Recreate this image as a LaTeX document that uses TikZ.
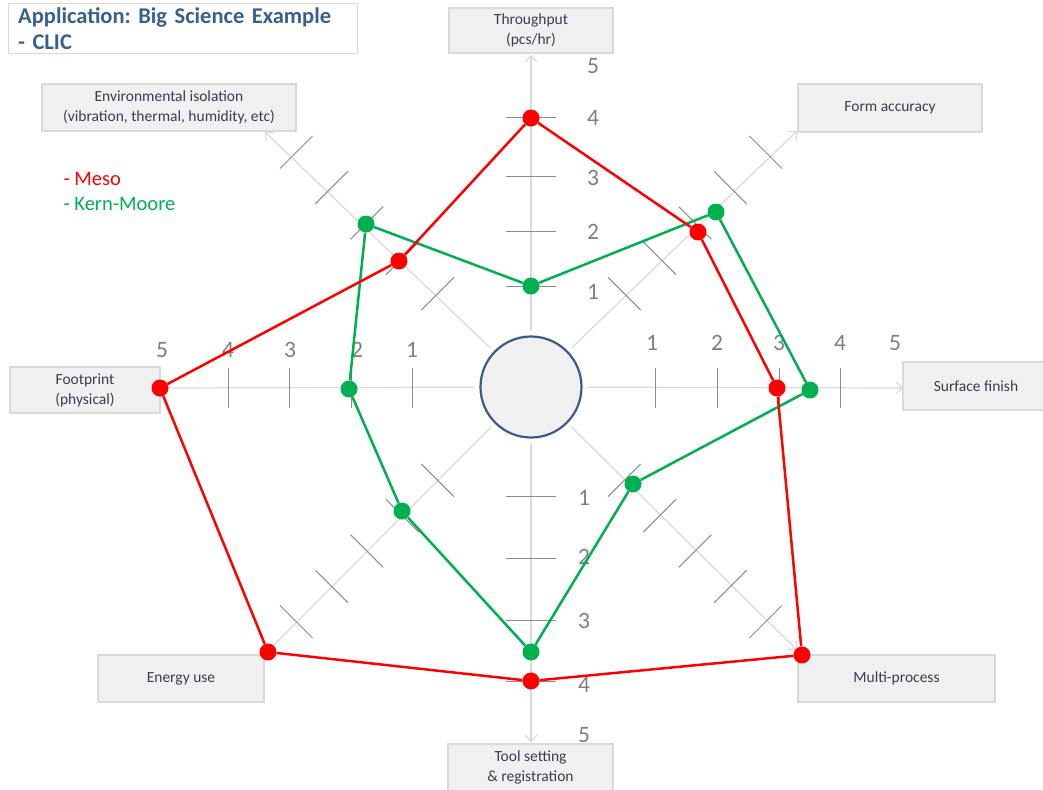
\documentclass[tikz,border=0pt]{standalone}
\usepackage{fontspec}
\setmainfont{Carlito}
\frenchspacing
\usetikzlibrary{positioning, arrows.meta, shapes}
\definecolor{boxgray}{HTML}{F0F0F0}
\definecolor{boxline}{HTML}{D9D9D9}
\definecolor{labelblue}{HTML}{333F50}
\definecolor{titleblue}{HTML}{376092}
\definecolor{mesored}{HTML}{FF0000}
\definecolor{kmgreen}{HTML}{00B050}
\definecolor{hubblue}{HTML}{3A5A8C}
\definecolor{tickgray}{HTML}{8C8C8C}
\definecolor{numgray}{HTML}{7F7F7F}
\tikzstyle{axis} = [draw=boxline, line width=1.2pt, -{Straight Barb[length=6pt,width=12pt]}, shorten <=5pt]

\begin{document}
\begin{tikzpicture}[x=1pt, y=-1pt]
    \tikzstyle{every node}=[font=\fontsize{15.5}{20}\selectfont]
    \tikzstyle{factor} = [rectangle, draw=boxline, line width=2pt, fill=boxgray, text=labelblue, align=center, inner sep=0pt]
    \tikzstyle{num} = [text=numgray, font=\fontsize{23.5}{23.5}\selectfont, inner sep=0pt]
    \tikzstyle{tick} = [draw=tickgray, line width=1pt]
    \tikzstyle{mdot} = [circle, fill=mesored, minimum size=17pt, inner sep=0pt]
    \tikzstyle{kdot} = [circle, fill=kmgreen, minimum size=17pt, inner sep=0pt]
    \tikzstyle{mline} = [draw=mesored, line width=2.5pt]
    \tikzstyle{kline} = [draw=kmgreen, line width=2.5pt]

    \useasboundingbox (0,0) rectangle (1043,789);

    % title and legend
    \node[draw=boxline, line width=0.8pt, text width=329pt, inner xsep=10pt, minimum height=50pt, align=left, text=titleblue,
          font=\fontsize{22.5}{26}\selectfont\bfseries] (title) at (182.5,28) {};
    \node[anchor=north west, text width=329pt, align=left, text=titleblue, inner sep=0pt,
          font=\fontsize{22.5}{26}\selectfont\bfseries] (titletext) at (18,7) {Application: Big Science Example\\- CLIC};
    \node[anchor=west, text=mesored, font=\fontsize{20.5}{22}\selectfont] (leg1) at (60,179) {- Meso};
    \node[anchor=west, text=kmgreen, font=\fontsize{20.5}{22}\selectfont] (leg2) at (60,204) {- Kern-Moore};

    % factor boxes
    \node[factor, minimum width=164pt, minimum height=45pt] (thr) at (531,30.5) {Throughput\\(pcs/hr)};
    \node[factor, minimum width=254pt, minimum height=47pt] (env) at (169,107.5) {Environmental isolation\\(vibration, thermal, humidity, etc)};
    \node[factor, minimum width=184pt, minimum height=48pt] (form) at (890,108) {Form accuracy};
    \node[factor, minimum width=150pt, minimum height=46pt] (foot) at (85,390) {Footprint\\(physical)};
    \node[factor, minimum width=146pt, minimum height=48pt] (surf) at (976,386) {Surface finish};
    \node[factor, minimum width=166pt, minimum height=47pt] (energy) at (181,678.5) {Energy use};
    \node[factor, minimum width=197pt, minimum height=47pt] (multi) at (896.5,678.5) {Multi-process};
    \node[factor, minimum width=165pt, minimum height=47pt] (tool) at (530.5,767) {Tool setting\\\& registration};

    % hub
    \node[circle, draw=hubblue, line width=2.2pt, fill=boxgray, minimum size=101pt, inner sep=0pt] (hub) at (531,387) {};

    % axis ends
    \coordinate (eup) at (531,55);
    \coordinate (edown) at (531,742);
    \coordinate (eleft) at (161,388);
    \coordinate (eright) at (903,388);
    \coordinate (eul) at (265,132);
    \coordinate (eur) at (797,131);
    \coordinate (elr) at (797,650);
    \coordinate (ell) at (266,653);

    \draw[axis] (hub) -- (eup);
    \draw[axis] (hub) -- (edown);
    \draw[axis] (hub) -- (eleft);
    \draw[axis] (hub) -- (eright);
    \draw[axis] (hub) -- (eul);
    \draw[axis] (hub) -- (eur);
    \draw[axis] (hub) -- (elr);
    \draw[axis] (hub) -- (ell);

    % ticks
    \foreach \y in {286,231,176,118} \draw[tick] (506,\y) -- (556,\y);
    \foreach \y in {496,558,620,681} \draw[tick] (506,\y) -- (556,\y);
    \foreach \x in {655,717,779,840} \draw[tick] (\x,368) -- (\x,408);
    \foreach \x in {412,351,289,228} \draw[tick] (\x,368) -- (\x,408);
    \foreach \a in {45,135,225,315}{
        \begin{scope}[shift={(531,387)}, rotate=\a]
            \foreach \r in {132,182,232,282,332} \draw[tick] (\r,-23) -- (\r,23);
        \end{scope}
    }

    % scale numbers
    \foreach \v/\y in {5/66,4/118,3/178,2/232,1/292} \node[num] (nu\v) at (593,\y) {\v};
    \foreach \v/\y in {1/498,2/557,3/621,4/685,5/735} \node[num] (nd\v) at (584,\y) {\v};
    \foreach \v/\x in {5/162,4/228,3/290,2/357,1/412} \node[num] (nl\v) at (\x,350) {\v};
    \foreach \v/\x in {1/652,2/717,3/779,4/840,5/895} \node[num] (nr\v) at (\x,343) {\v};

    % Kern-Moore
    \node[kdot] (k1) at (531,286) {};
    \node[kdot] (k2) at (716,212) {};
    \node[kdot] (k3) at (810,390) {};
    \node[kdot] (k4) at (633,484) {};
    \node[kdot] (k5) at (531,652) {};
    \node[kdot] (k6) at (402,511) {};
    \node[kdot] (k7) at (349,389) {};
    \node[kdot] (k8) at (366,224) {};
    \draw[kline] (k1) -- (k2) -- (k3) -- (k4) -- (k5) -- (k6) -- (k7) -- (k8) -- (k1);

    % Meso
    \node[mdot] (m1) at (531,118) {};
    \node[mdot] (m2) at (698,232) {};
    \node[mdot] (m3) at (777,388) {};
    \node[mdot] (m4) at (802,655) {};
    \node[mdot] (m5) at (531,681) {};
    \node[mdot] (m6) at (268,652) {};
    \node[mdot] (m7) at (160,388) {};
    \node[mdot] (m8) at (399,261) {};
    \draw[mline] (m1) -- (m2) -- (m3) -- (m4) -- (m5) -- (m6) -- (m7) -- (m8) -- (m1);

\end{tikzpicture}
\end{document}
